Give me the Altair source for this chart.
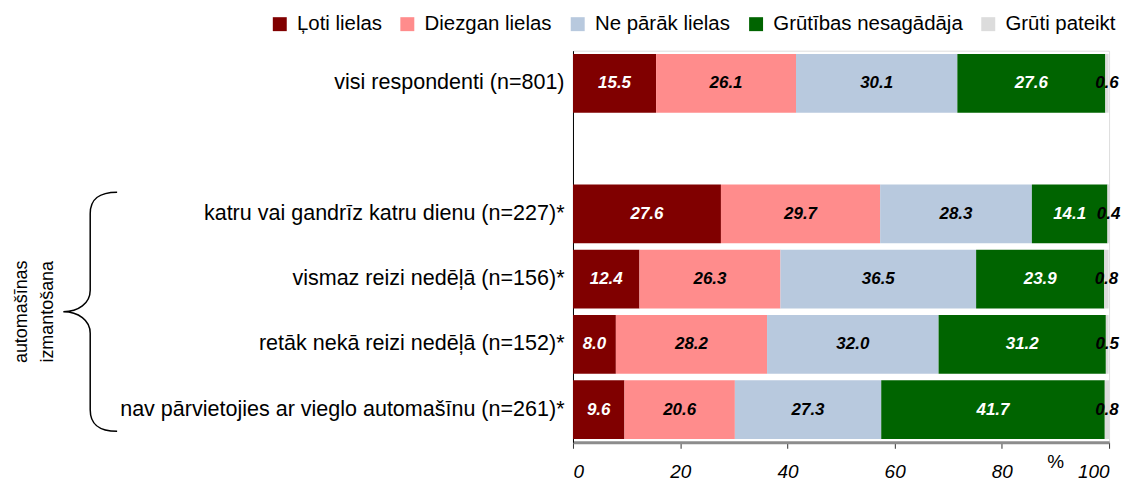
import altair as alt
import pandas as pd

categories = [
    "visi respondenti (n=801)",
    "katru vai gandrīz katru dienu (n=227)*",
    "vismaz reizi nedēļā (n=156)*",
    "retāk nekā reizi nedēļā (n=152)*",
    "nav pārvietojies ar vieglo automašīnu (n=261)*",
]
spacer = " "
series = ["Ļoti lielas", "Diezgan lielas", "Ne pārāk lielas", "Grūtības nesagādāja", "Grūti pateikt"]
very_large = [15.5, 27.6, 12.4, 8.0, 9.6]
fairly_large = [26.1, 29.7, 26.3, 28.2, 20.6]
not_too_large = [30.1, 28.3, 36.5, 32.0, 27.3]
no_difficulty = [27.6, 14.1, 23.9, 31.2, 41.7]
hard_to_say = [0.6, 0.4, 0.8, 0.5, 0.8]
colors = ["#800000", "#FF8C8C", "#B8C9DE", "#006400", "#DCDCDC"]
light_text_series = ["Ļoti lielas", "Grūtības nesagādāja"]
x_ticks = [0, 20, 40, 60, 80, 100]
group_label = ["automašīnas", "izmantošana"]
unit_label = "%"

FONT = "Liberation Sans"

values = [very_large, fairly_large, not_too_large, no_difficulty, hard_to_say]
rows = []
for si, (s, vals) in enumerate(zip(series, values)):
    for c, v in zip(categories, vals):
        rows.append({"cat": c, "series": s, "idx": si, "value": v})
df = pd.DataFrame(rows)

y_domain = [categories[0], spacer] + categories[1:]
y_scale = alt.Scale(domain=y_domain, paddingInner=0.1, paddingOuter=0.05)
x_scale = alt.Scale(domain=[0, 100], nice=False)

bars = alt.Chart(df).mark_bar().encode(
    y=alt.Y("cat:N", scale=y_scale, sort=y_domain,
            axis=alt.Axis(title=None, ticks=False, labelPadding=9, labelFontSize=21.6,
                          labelColor="black", labelLimit=700, domainColor="black",
                          domainWidth=1, labelFont=FONT)),
    x=alt.X("value:Q", stack="zero", scale=x_scale,
            axis=alt.Axis(values=x_ticks, title=None, grid=False, labelFontSize=19,
                          labelFontStyle="italic", labelColor="black", labelFont=FONT,
                          labelPadding=14, tickSize=6, tickColor="#333333",
                          domainColor="#8c8c8c", domainWidth=3, format="d")),
    color=alt.Color("series:N", scale=alt.Scale(domain=series, range=colors),
                    legend=alt.Legend(title=None, orient="none", direction="horizontal",
                                      columns=5, legendX=-304.5, legendY=-37,
                                      symbolType="square", symbolSize=196,
                                      symbolStrokeWidth=0, labelFontSize=20.5,
                                      labelFont=FONT, labelOffset=7, columnPadding=15,
                                      labelLimit=400, labelColor="black")),
    order=alt.Order("idx:Q", sort="ascending"),
)

test = "indexof([" + ",".join("'" + s + "'" for s in light_text_series) + "], datum.series) >= 0"
labels = alt.Chart(df).transform_stack(
    stack="value", groupby=["cat"], sort=[alt.SortField(field="idx", order="ascending")],
    as_=["v0", "v1"],
).transform_calculate(mid="(datum.v0 + datum.v1) / 2").mark_text(
    font=FONT, fontSize=17, fontWeight="bold", fontStyle="italic", baseline="middle",
).encode(
    y=alt.Y("cat:N", scale=y_scale, sort=y_domain),
    x=alt.X("mid:Q", scale=x_scale),
    text=alt.Text("value:Q", format=".1f"),
    color=alt.condition(test, alt.value("white"), alt.value("black")),
)

one = pd.DataFrame({"t": ["\n".join(group_label)], "u": [unit_label]})

brace_path = ("M 0.225 -1 C 0.08 -1 0 -0.95 0 -0.82 L 0 -0.18 C 0 -0.07 -0.1 0 -0.225 0 "
              "C -0.1 0 0 0.07 0 0.18 L 0 0.82 C 0 0.95 0.08 1 0.225 1")
brace = alt.Chart(one).mark_point(
    shape=brace_path, size=57600, filled=False, stroke="black", strokeWidth=1.5, opacity=1,
).encode(x=alt.value(-484.5), y=alt.value(262))

group = alt.Chart(one).mark_text(
    font=FONT, fontSize=18, angle=270, lineBreak="\n", lineHeight=26,
    align="center", baseline="middle", color="black",
).encode(x=alt.value(-552.5), y=alt.value(262), text="t:N")

pct = alt.Chart(one).mark_text(
    font=FONT, fontSize=19, align="center", baseline="middle", color="black",
).encode(x=alt.value(484.5), y=alt.value(413), text="u:N")

chart = alt.layer(bars, labels, brace, group, pct).properties(
    width=538, height=393,
    padding={"left": 567, "top": 42, "right": 20, "bottom": 40},
    autosize=alt.AutoSizeParams(type="none"),
).configure_view(stroke=None).configure(font=FONT)

chart.save("out.html", embed_options={"renderer": "svg", "actions": False})
